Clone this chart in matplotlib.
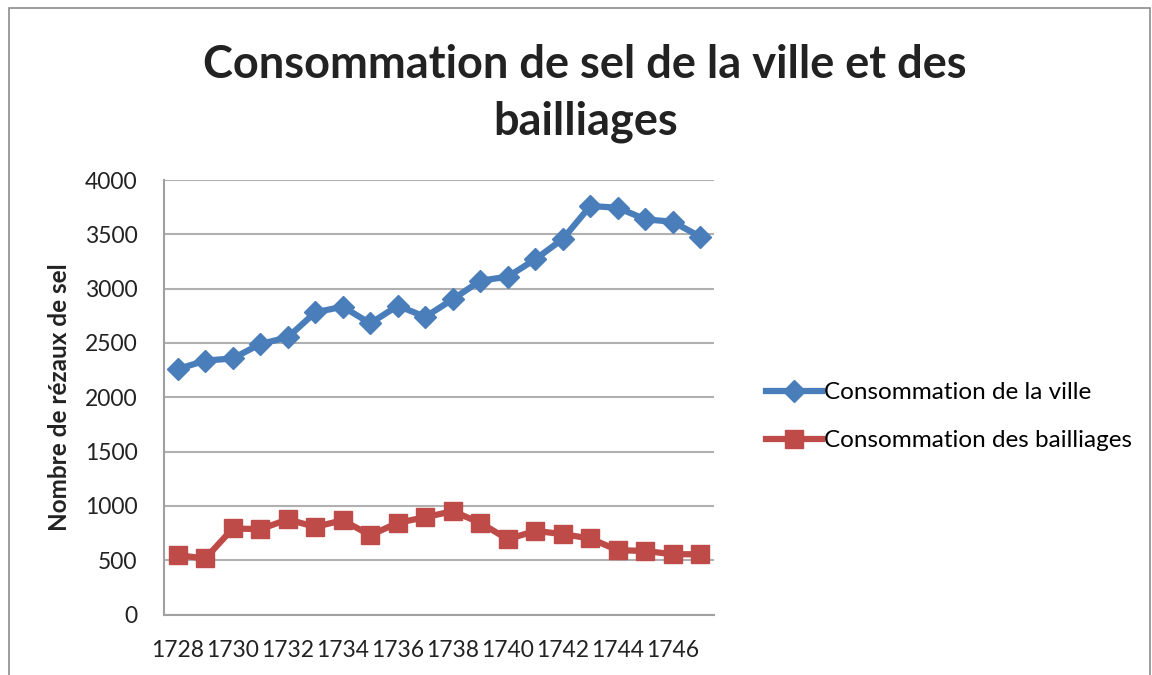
import matplotlib.pyplot as plt
from matplotlib.patches import Rectangle

plt.rcParams['font.family'] = ['Lato', 'DejaVu Sans']

years = list(range(1728, 1748))
ville = [2260, 2337, 2358, 2490, 2552, 2782, 2834, 2680, 2843, 2740,
         2902, 3073, 3110, 3270, 3457, 3761, 3745, 3638, 3616, 3478]
bailliages = [546, 516, 792, 786, 875, 807, 868, 730, 844, 896,
              951, 844, 693, 770, 740, 700, 592, 585, 555, 555]
labels = [str(y) if (y - 1728) % 2 == 0 else '' for y in years]

fig = plt.figure(figsize=(11.52, 6.75), dpi=100)
fig.patches.append(Rectangle((0.008, -0.01), 0.99, 0.998, transform=fig.transFigure,
                             fill=False, edgecolor='#8c8c8c', linewidth=1.2))

ax = fig.add_axes([0.1424, 0.0896, 0.4774, 0.6437])
x = range(len(years))

ax.plot(x, ville, color='#4a7ebb', linewidth=4.5, marker='D', markersize=11.5,
        label='Consommation de la ville')
ax.plot(x, bailliages, color='#be4b48', linewidth=4.5, marker='s', markersize=12.5,
        label='Consommation des bailliages')

ax.set_xlim(-0.5, len(years) - 0.5)
ax.set_ylim(0, 4000)
ax.set_yticks(range(0, 4001, 500))
ax.set_xticks(list(x))
ax.set_xticklabels(labels, fontsize=16.5, color='#222222')
ax.tick_params(axis='x', length=0, pad=18)
ax.tick_params(axis='y', length=0, labelsize=16.5, labelcolor='#222222', pad=19)
ax.grid(axis='y', color='#b0b0b0', linewidth=1.5)
ax.set_axisbelow(True)
for s in ['top', 'right']:
    ax.spines[s].set_visible(False)
for s in ['left', 'bottom']:
    ax.spines[s].set_color('#a0a0a0')
    ax.spines[s].set_linewidth(1.5)

ax.set_ylabel('Nombre de rézaux de sel', fontsize=17.5, fontweight='bold',
              labelpad=10, color='#222222')

fig.text(0.508, 0.861, 'Consommation de sel de la ville et des\nbailliages',
         ha='center', va='center', fontsize=32.5, fontweight='bold',
         color='#222222', linespacing=1.42)

ax.legend(loc='center left', bbox_to_anchor=(1.055, 0.455), frameon=False,
          fontsize=17.5, handlelength=2.3, handletextpad=0.1, labelspacing=1.1)

fig.savefig('out.png', dpi=100)
